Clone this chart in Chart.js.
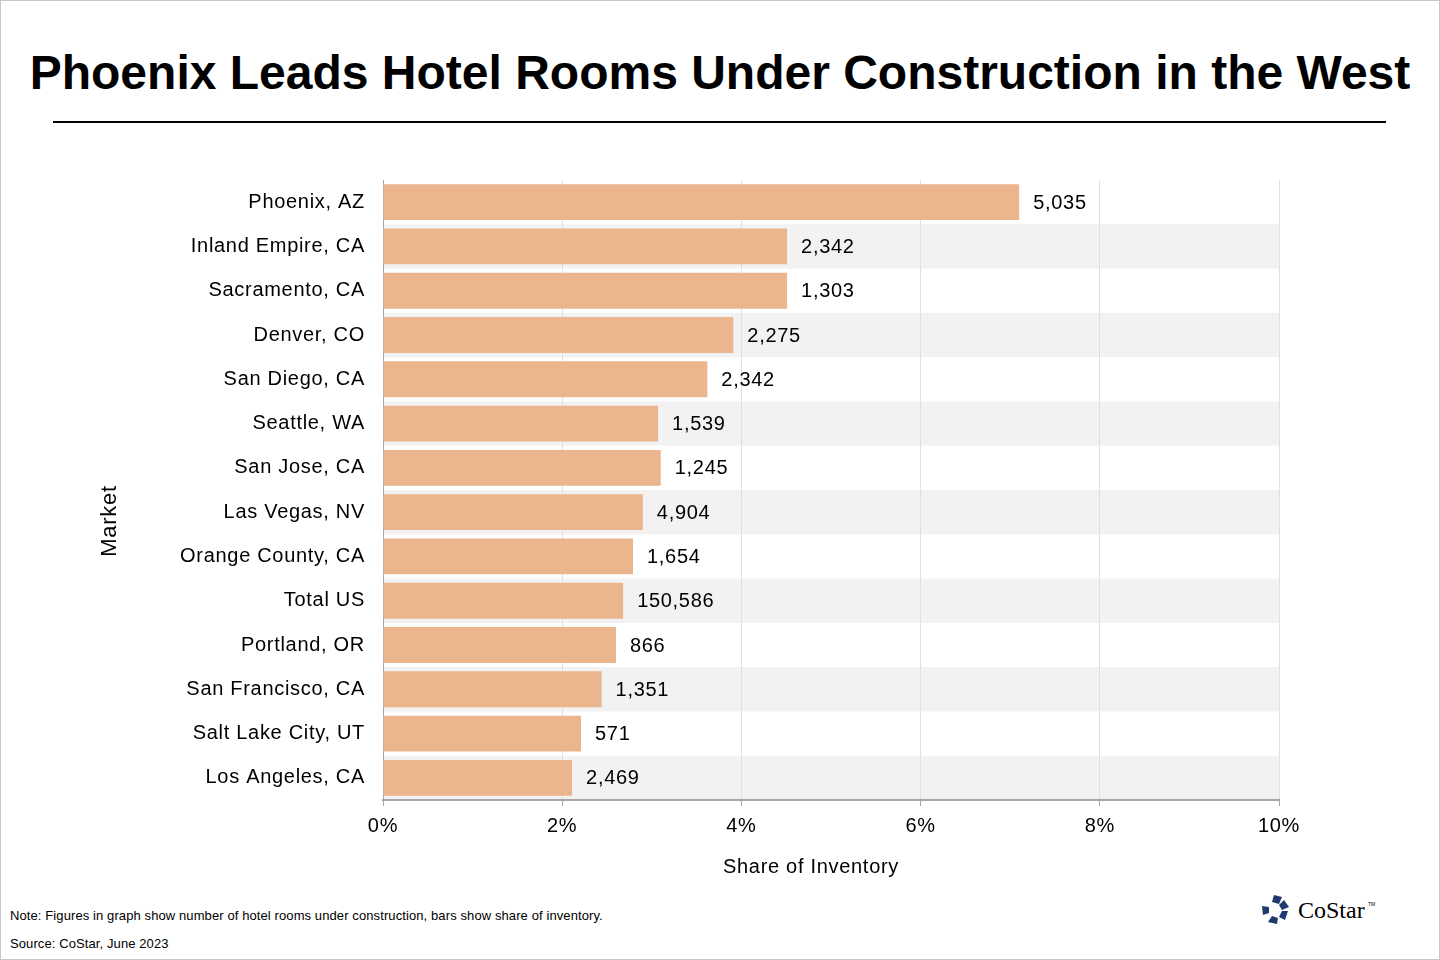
<!DOCTYPE html>
<html>
<head>
<meta charset="utf-8">
<script src="https://cdn.jsdelivr.net/npm/chart.js@4"></script>
<style>
  html, body { margin: 0; padding: 0; background: #fff; }
  body { width: 1440px; height: 960px; position: relative; overflow: hidden; font-family: "Liberation Sans", Arial, sans-serif; }
  .frame { position: absolute; left: 0; top: 0; width: 1438px; height: 958px; border: 1px solid #c8c8c8; }
  h1 { position: absolute; left: 0; width: 1440px; top: 45px; margin: 0; text-align: center; font-size: 48px; font-weight: bold; color: #000; }
  .rule { position: absolute; left: 53px; width: 1333px; top: 121px; height: 2px; background: #000; }
  #wrap { position: absolute; left: 0; top: 140px; width: 1440px; height: 750px; }
  .note { position: absolute; left: 10px; font-size: 13px; letter-spacing: 0.1px; color: #000; }
  .logo { position: absolute; left: 1260px; top: 893px; }
</style>
</head>
<body>
<div class="frame"></div>
<h1>Phoenix Leads Hotel Rooms Under Construction in the West</h1>
<div class="rule"></div>
<div id="wrap"><canvas id="chart" width="1440" height="750"></canvas></div>
<div class="note" style="top:908px">Note: Figures in graph show number of hotel rooms under construction, bars show share of inventory.</div>
<div class="note" style="top:936px">Source: CoStar, June 2023</div>
<svg class="logo" width="120" height="34" viewBox="0 0 120 34">
  <g fill="#1f3a6e">
    <polygon points="14,2 22,4 19,11 12,9"/>
    <polygon points="24,7 29,14 22,17 19,12"/>
    <polygon points="28,18 25,27 19,24 22,18"/>
    <polygon points="17,31 8,29 12,23 18,25"/>
    <polygon points="3,22 2,13 9,14 9,20"/>
  </g>
  <text x="38" y="25" font-family="Liberation Serif, serif" font-size="24" fill="#000">CoStar</text>
  <text x="108" y="13" font-family="Liberation Sans, sans-serif" font-size="5" fill="#000">TM</text>
</svg>
<script>
const markets = ['Phoenix, AZ', 'Inland Empire, CA', 'Sacramento, CA', 'Denver, CO', 'San Diego, CA',
  'Seattle, WA', 'San Jose, CA', 'Las Vegas, NV', 'Orange County, CA', 'Total US',
  'Portland, OR', 'San Francisco, CA', 'Salt Lake City, UT', 'Los Angeles, CA'];
const shareOfInventory = [7.10, 4.51, 4.51, 3.91, 3.62, 3.07, 3.10, 2.90, 2.79, 2.68, 2.60, 2.44, 2.21, 2.11];
const roomsUnderConstruction = ['5,035', '2,342', '1,303', '2,275', '2,342', '1,539', '1,245', '4,904',
  '1,654', '150,586', '866', '1,351', '571', '2,469'];
const xTicks = [0, 2, 4, 6, 8, 10];

const FONT = '"Liberation Sans", Arial, sans-serif';

const bandPlugin = {
  id: 'bands',
  beforeDraw(chart) {
    const { ctx, chartArea } = chart;
    ctx.letterSpacing = '0.7px';
    const y = chart.scales.y;
    const step = y.getPixelForValue(1) - y.getPixelForValue(0);
    ctx.save();
    ctx.fillStyle = '#f2f2f2';
    for (let i = 1; i < markets.length; i += 2) {
      const c = y.getPixelForValue(i);
      ctx.fillRect(chartArea.left, c - step / 2, chartArea.right - chartArea.left, step);
    }
    ctx.restore();
  }
};

const labelPlugin = {
  id: 'valueLabels',
  afterDatasetsDraw(chart) {
    const { ctx } = chart;
    const meta = chart.getDatasetMeta(0);
    ctx.save();
    ctx.font = '20px ' + FONT;
    ctx.fillStyle = '#000';
    ctx.textAlign = 'left';
    ctx.textBaseline = 'middle';
    meta.data.forEach((bar, i) => {
      ctx.fillText(roomsUnderConstruction[i], bar.x + 14, bar.y + 1);
    });
    ctx.restore();
  },
  afterDraw(chart) {
    // axis titles
    const { ctx, chartArea } = chart;
    ctx.save();
    ctx.fillStyle = '#000';
    ctx.textAlign = 'center';
    ctx.textBaseline = 'middle';
    ctx.font = '20px ' + FONT;
    ctx.fillText('Share of Inventory', (chartArea.left + chartArea.right) / 2 - 20, chartArea.bottom + 67);
    ctx.translate(110, (chartArea.top + chartArea.bottom) / 2 + 31);
    ctx.rotate(-Math.PI / 2);
    ctx.font = '22px ' + FONT;
    ctx.fillText('Market', 0, 0);
    ctx.restore();
  }
};

new Chart(document.getElementById('chart'), {
  type: 'bar',
  data: {
    labels: markets,
    datasets: [{
      data: shareOfInventory,
      backgroundColor: '#ebb58d',
      borderWidth: 0,
      categoryPercentage: 1,
      barPercentage: 0.81
    }]
  },
  options: {
    indexAxis: 'y',
    responsive: false,
    animation: false,
    devicePixelRatio: 1,
    layout: { padding: { left: 96, right: 161, top: 40, bottom: 0 } },
    plugins: { legend: { display: false }, tooltip: { enabled: false } },
    scales: {
      x: {
        min: 0,
        max: 10,
        afterBuildTicks(scale) { scale.ticks = xTicks.map(v => ({ value: v })); },
        afterFit(scale) { scale.height = 90; },
        grid: { color: '#e0e0e0', lineWidth: 1, tickLength: 6, tickColor: '#a6a6a6' },
        border: { color: '#a6a6a6', width: 2 },
        ticks: {
          padding: 8,
          color: '#000',
          font: { family: FONT, size: 20 },
          callback: v => v + '%'
        }
      },
      y: {
        afterFit(scale) { scale.width = 383 - 96; },
        grid: { display: false, drawTicks: false },
        border: { color: '#a6a6a6', width: 1 },
        ticks: {
          padding: 18,
          color: '#000',
          font: { family: FONT, size: 20 }
        }
      }
    }
  },
  plugins: [bandPlugin, labelPlugin]
});
</script>
</body>
</html>
